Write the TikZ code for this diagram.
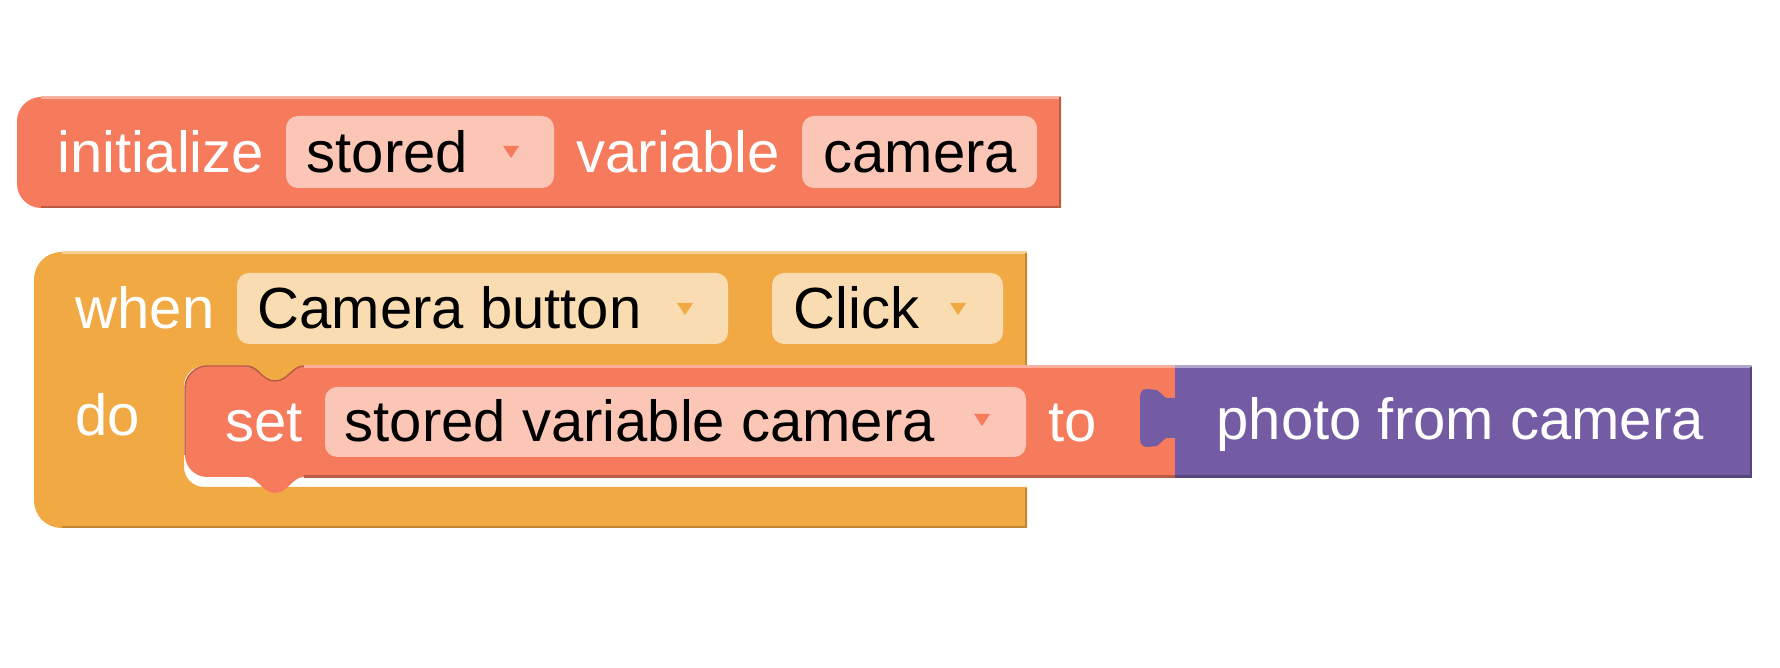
\documentclass[tikz,border=0pt]{standalone}
\usepackage{fontspec}
\setmainfont{Liberation Sans}
\definecolor{varred}{HTML}{F67B5C}
\definecolor{varfield}{HTML}{FCC6B7}
\definecolor{eventorange}{HTML}{F1A944}
\definecolor{eventfield}{HTML}{F9DCB1}
\definecolor{photopurple}{HTML}{745CA5}
\tikzset{
  lbl/.style={anchor=base west, inner sep=0pt, text=white},
  fieldtxt/.style={anchor=base west, inner sep=0pt, text=black},
  fieldbox/.style={rounded corners=1.2mm},
}
\newcommand{\droparrow}[3]{\fill[#1] (#2-8,#3-6) -- (#2+8,#3-6) -- (#2,#3+6) -- cycle;}

\begin{document}
\begin{tikzpicture}[x=0.01cm, y=-0.01cm, font=\fontsize{16.5}{20}\selectfont]
	\useasboundingbox (0,0) rectangle (1780,668);
	% initialize block
	\fill[varred] (1061,97) -- (1061,208) -- (41,208) .. controls (28,208) and (17,197) .. (17,184) -- (17,121) .. controls (17,108) and (28,97) .. (41,97) -- cycle;
	\draw[varred!60!white, line width=0.6pt] (41,97.5) -- (1061,97.5);
	\draw[varred!75!black, line width=0.6pt] (41,207) -- (1060,207) -- (1060,97);
	\fill[varfield, fieldbox] (286,116) rectangle (554,188);
	\fill[varfield, fieldbox] (802,116) rectangle (1037,188);
	\droparrow{varred}{511}{152}
	\node[lbl] (init) at (57,173) {initialize};
	\node[fieldtxt] (stored) at (306,173) {stored};
	\node[lbl] (variable) at (576,173) {variable};
	\node[fieldtxt] (camera) at (823,173) {camera};
	% event block
	\fill[eventorange] (62,252) -- (1027,252) -- (1027,366) -- (304,366) .. controls (292,366) and (288,381) .. (275,381) .. controls (262,381) and (258,366) .. (247,366) -- (204,366) .. controls (193,366) and (184,375) .. (184,386) -- (184,467) .. controls (184,478) and (193,487) .. (204,487) -- (1027,487) -- (1027,528) -- (62,528) .. controls (46,528) and (34,516) .. (34,500) -- (34,280) .. controls (34,264) and (46,252) .. (62,252) -- cycle;
	\draw[eventorange!55!white, line width=0.6pt] (62,252.5) -- (1027,252.5);
	\draw[eventorange!80!black, line width=0.6pt] (1026,253) -- (1026,365);
	\draw[eventorange!80!black, line width=0.6pt] (62,527) -- (1026,527) -- (1026,488);
	\fill[eventfield, fieldbox] (237,273) rectangle (728,344);
	\fill[eventfield, fieldbox] (772,273) rectangle (1003,344);
	\droparrow{eventorange}{685}{309}
	\droparrow{eventorange}{958}{309}
	\node[lbl] (when) at (75,329) {when};
	\node[fieldtxt] (button) at (257,329) {Camera button};
	\node[fieldtxt] (click) at (793,329) {Click};
	\node[lbl] (do) at (75,436) {do};
	% set block
	\fill[varred] (207,366) -- (247,366) .. controls (258,366) and (262,381) .. (275,381) .. controls (288,381) and (292,366) .. (304,366) -- (1175,366) -- (1175,477) -- (304,477) .. controls (292,477) and (288,493) .. (275,493) .. controls (262,493) and (258,477) .. (247,477) -- (207,477) .. controls (195,477) and (185,467) .. (185,455) -- (185,388) .. controls (185,376) and (195,366) .. (207,366) -- cycle;
	\draw[varred!75!black, line width=0.4pt] (185,455) -- (185,388) .. controls (185,376) and (195,366) .. (207,366) -- (247,366) .. controls (258,366) and (262,381) .. (275,381) .. controls (288,381) and (292,366) .. (304,366);
	\draw[varred!60!white, line width=0.6pt] (304,366.5) -- (1175,366.5);
	\draw[varred!75!black, line width=0.6pt] (304,476.5) -- (1175,476.5);
	\fill[varfield, fieldbox] (325,387) rectangle (1026,457);
	\droparrow{varred}{982}{420}
	\node[lbl] (set) at (225,442) {set};
	\node[fieldtxt] (storedvar) at (344,442) {stored variable camera};
	\node[lbl] (to) at (1048,442) {to};
	% photo block
	\fill[photopurple] (1175,366) rectangle (1752,477);
	\fill[photopurple] (1176,398) -- (1166,398) -- (1157,390) -- (1147,389) .. controls (1142,389) and (1140,392) .. (1140,398) -- (1140,438) .. controls (1140,444) and (1142,447) .. (1148,447) -- (1157,446) -- (1166,438) -- (1176,438) -- cycle;
	\draw[photopurple!55!white, line width=0.6pt] (1175,366.5) -- (1752,366.5);
	\draw[photopurple!75!black, line width=0.6pt] (1175,476.5) -- (1751,476.5) -- (1751,367);
	\node[lbl] (photo) at (1216,440) {photo from camera};
\end{tikzpicture}
\end{document}
